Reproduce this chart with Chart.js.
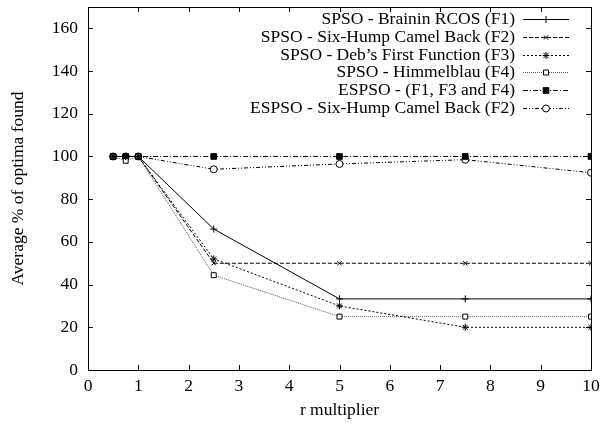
<!DOCTYPE html>
<html>
<head>
<meta charset="utf-8">
<script src="https://cdn.jsdelivr.net/npm/chart.js@4.4.1/dist/chart.umd.min.js"></script>
<style>
  html, body { margin: 0; padding: 0; background: #fff; }
  #wrap { width: 603px; height: 426px; }
</style>
</head>
<body>
<div id="wrap"><canvas id="myChart" width="603" height="426"></canvas></div>
<script>
// r multiplier values (x)
var rValues = [0.5, 0.75, 1, 2.5, 5, 7.5, 10];

// average % of optima found, one array per run
var spsoF1 = [100, 100, 100, 66, 33.3, 33.3, 33.3];
var spsoF2 = [100, 100, 100, 50, 50, 50, 50];
var spsoF3 = [100, 100, 100, 52, 30, 20, 20];
var spsoF4 = [100, 98, 100, 44.4, 25, 25, 25];
var espsoF134 = [100, 100, 100, 100, 100, 100, 100];
var espsoF2 = [100, 100, 100, 94, 96.5, 98.5, 92.4];

var labels = [
    'SPSO - Brainin RCOS (F1)',
    'SPSO - Six-Hump Camel Back (F2)',
    'SPSO - Deb\u2019s First Function (F3)',
    'SPSO - Himmelblau (F4)',
    'ESPSO - (F1, F3 and F4)',
    'ESPSO - Six-Hump Camel Back (F2)'
];
var yTicks = [0, 20, 40, 60, 80, 100, 120, 140, 160];

var FONT = '"Liberation Serif", "Times New Roman", serif';

function pts(vals) {
    return vals.map(function (v, i) { return { x: rValues[i], y: v }; });
}

function serie(label, vals, dash, style, radius, fill, color) {
    return {
        label: label,
        data: pts(vals),
        borderColor: color,
        backgroundColor: fill,
        borderWidth: 1,
        borderDash: dash,
        pointStyle: style,
        pointRadius: radius,
        pointBorderWidth: 1,
        pointBorderColor: '#000',
        pointBackgroundColor: fill,
        tension: 0,
        fill: false
    };
}

// ticks pointing inward on all four sides + full frame
var frame = {
    id: 'frame',
    afterDatasetsDraw: function (chart) {
        var ctx = chart.ctx, a = chart.chartArea;
        var xs = chart.scales.x, ys = chart.scales.y;
        ctx.save();
        ctx.strokeStyle = '#000';
        ctx.lineWidth = 1;
        ctx.setLineDash([]);
        ctx.beginPath();
        xs.ticks.forEach(function (t) {
            var px = Math.round(xs.getPixelForValue(t.value)) + 0.5;
            ctx.moveTo(px, a.bottom); ctx.lineTo(px, a.bottom - 5);
            ctx.moveTo(px, a.top); ctx.lineTo(px, a.top + 5);
        });
        ys.ticks.forEach(function (t) {
            var py = Math.round(ys.getPixelForValue(t.value)) + 0.5;
            ctx.moveTo(a.left, py); ctx.lineTo(a.left + 5, py);
            ctx.moveTo(a.right, py); ctx.lineTo(a.right - 5, py);
        });
        ctx.stroke();
        ctx.strokeRect(Math.round(a.left) + 0.5, Math.round(a.top) + 0.5,
            Math.round(a.right - a.left), Math.round(a.bottom - a.top));
        ctx.restore();
    }
};

// gnuplot style key: text right aligned, sample line with marker
var key = {
    id: 'key',
    afterDatasetsDraw: function (chart) {
        var ctx = chart.ctx;
        var textRight = 515, x0 = 523, x1 = 569, top = 19, step = 17.8;
        ctx.save();
        ctx.font = '17.5px ' + FONT;
        ctx.textAlign = 'right';
        ctx.textBaseline = 'middle';
        chart.data.datasets.forEach(function (ds, i) {
            var y = Math.round(top + i * step) + 0.5;
            ctx.fillStyle = '#000';
            ctx.fillText(ds.label, textRight, y);
            ctx.strokeStyle = ds.borderColor;
            ctx.lineWidth = 1;
            ctx.setLineDash(ds.borderDash || []);
            ctx.beginPath();
            ctx.moveTo(x0, y); ctx.lineTo(x1, y);
            ctx.stroke();
            ctx.setLineDash([]);
            ctx.strokeStyle = '#000';
            ctx.fillStyle = ds.pointBackgroundColor;
            Chart.helpers.drawPoint(ctx, {
                pointStyle: ds.pointStyle,
                radius: ds.pointRadius,
                rotation: 0,
                borderWidth: 1
            }, (x0 + x1) / 2, y);
        });
        ctx.restore();
    }
};

var ctx = document.getElementById('myChart').getContext('2d');
var myChart = new Chart(ctx, {
    type: 'line',
    data: {
        datasets: [
            serie(labels[0], spsoF1, [], 'cross', 3.5, 'rgba(0,0,0,0)', '#000'),
            serie(labels[1], spsoF2, [4, 2], 'crossRot', 3, 'rgba(0,0,0,0)', '#000'),
            serie(labels[2], spsoF3, [2, 2], 'star', 3.5, 'rgba(0,0,0,0)', '#000'),
            serie(labels[3], spsoF4, [1, 1], 'rect', 3.5, '#fff', '#555'),
            serie(labels[4], espsoF134, [5, 2, 1, 2], 'rect', 4, '#000', '#000'),
            serie(labels[5], espsoF2, [4, 2, 1, 2, 1, 2], 'circle', 3.5, '#fff', '#000')
        ]
    },
    options: {
        responsive: false,
        animation: false,
        layout: { padding: { top: 7, right: 12, left: 0, bottom: 0 } },
        plugins: {
            legend: { display: false },
            tooltip: { enabled: false }
        },
        scales: {
            x: {
                type: 'linear',
                min: 0,
                max: 10,
                grid: { display: false, tickLength: 0 },
                border: { display: false },
                ticks: {
                    stepSize: 1,
                    padding: 6,
                    color: '#000',
                    maxRotation: 0,
                    font: { family: FONT, size: 17.5 }
                },
                title: {
                    display: true,
                    text: 'r multiplier',
                    color: '#000',
                    padding: { top: 0, bottom: 5 },
                    font: { family: FONT, size: 17.5 }
                },
                afterFit: function (scale) {
                    scale.height = 56;
                    scale.paddingLeft = 0;
                    scale.paddingRight = 0;
                }
            },
            y: {
                type: 'linear',
                min: 0,
                max: 170,
                grid: { display: false, tickLength: 0 },
                border: { display: false },
                afterBuildTicks: function (scale) {
                    scale.ticks = yTicks.map(function (v) { return { value: v }; });
                },
                ticks: {
                    padding: 10,
                    color: '#000',
                    font: { family: FONT, size: 17.5 }
                },
                title: {
                    display: true,
                    text: 'Average % of optima found',
                    color: '#000',
                    padding: { top: 8, bottom: 0 },
                    font: { family: FONT, size: 17.5 }
                },
                afterFit: function (scale) {
                    scale.width = 88;
                    scale.paddingTop = 0;
                    scale.paddingBottom = 0;
                }
            }
        }
    },
    plugins: [frame, key]
});
</script>
</body>
</html>
